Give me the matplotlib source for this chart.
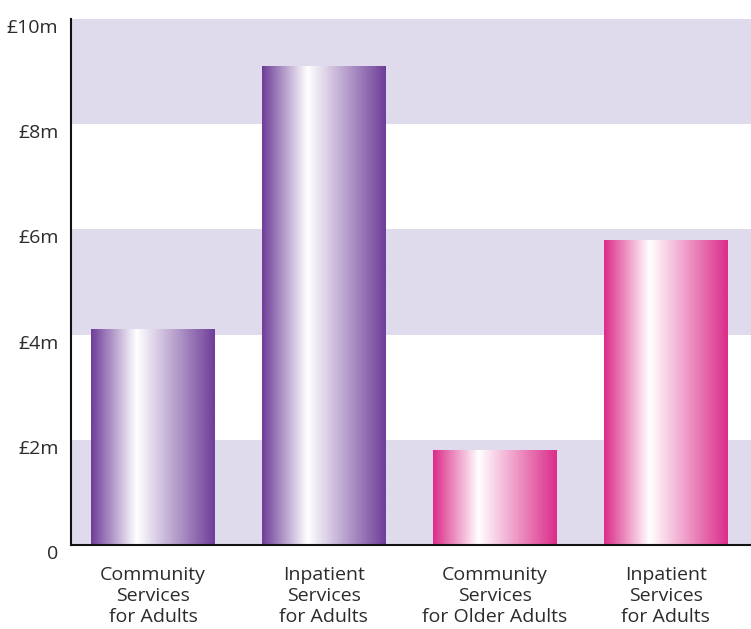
import numpy as np
import matplotlib.pyplot as plt
import matplotlib.transforms as mtransforms
from matplotlib.colors import LinearSegmentedColormap

plt.rcParams['font.family'] = ['Open Sans', 'DejaVu Sans']

categories = ['Community\nServices\nfor Adults', 'Inpatient\nServices\nfor Adults',
              'Community\nServices\nfor Older Adults', 'Inpatient\nServices\nfor Adults']
values = [4.1, 9.1, 1.8, 5.8]
bar_colours = ['#6f3f9a', '#6f3f9a', '#dc2e8b', '#dc2e8b']
yticks = [0, 2, 4, 6, 8, 10]
ytick_labels = ['0', '£2m', '£4m', '£6m', '£8m', '£10m']

fig = plt.figure(figsize=(7.51, 6.29), dpi=100)
ax = fig.add_axes([0.0945, 0.1335, 0.9055, 0.8365])

# alternating background bands
for lo in range(0, 10, 4):
    ax.axhspan(lo, lo + 2, color='#dfdbed', zorder=0, lw=0)

x = np.arange(len(values))
bars = ax.bar(x, values, width=0.725, color='none', zorder=2)

grad = np.concatenate([np.linspace(0, 1, 37), np.linspace(1, 0, 63)[1:]])
for bar, col in zip(bars, bar_colours):
    cmap = LinearSegmentedColormap.from_list('g', [col, '#ffffff'])
    im = ax.imshow(grad[np.newaxis, :], cmap=cmap, aspect='auto',
                   extent=[bar.get_x(), bar.get_x() + bar.get_width(), 0, bar.get_height()],
                   zorder=2, interpolation='bilinear')
    im.set_clip_path(bar)

ax.set_xlim(-0.48, 3.5)
ax.set_ylim(0, 10)
ax.set_yticks(yticks)
ax.set_yticklabels(ytick_labels)
ax.set_xticks(x)
ax.set_xticklabels(categories, linespacing=1.22)
ax.tick_params(length=0, labelsize=14, colors='#2b2b2b')
ax.tick_params(axis='y', pad=9)
ax.tick_params(axis='x', pad=15)

# nudge y labels slightly down like the original
shift = mtransforms.ScaledTranslation(0, -7 / 100, fig.dpi_scale_trans)
for lbl in ax.get_yticklabels():
    lbl.set_transform(lbl.get_transform() + shift)

for s in ['top', 'right']:
    ax.spines[s].set_visible(False)
for s in ['left', 'bottom']:
    ax.spines[s].set_linewidth(1.5)
    ax.spines[s].set_color('#111111')
    ax.spines[s].set_zorder(3)

fig.savefig('out.png', dpi=100)
